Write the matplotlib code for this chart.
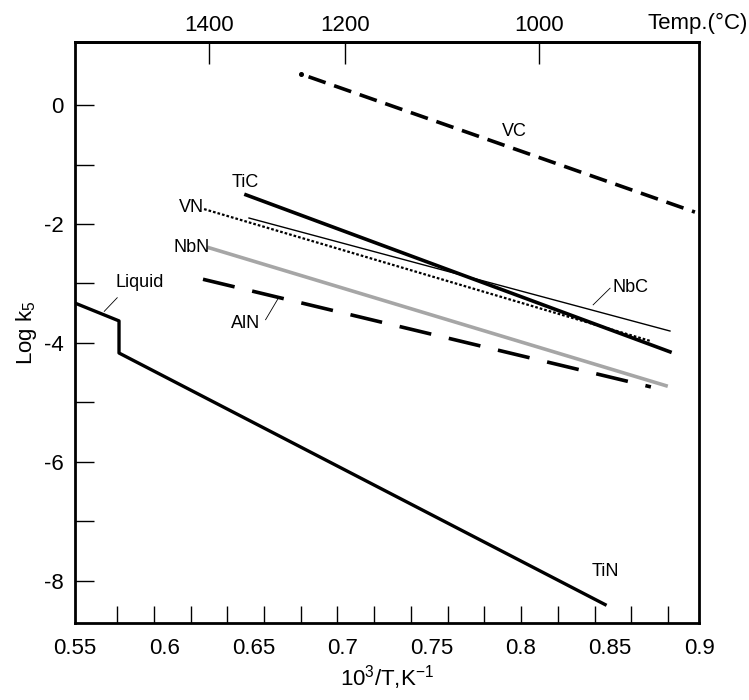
import numpy as np
import matplotlib.pyplot as plt

plt.rcParams['font.family'] = ['Liberation Sans', 'DejaVu Sans']
plt.rcParams['axes.unicode_minus'] = False
plt.rcParams['mathtext.fontset'] = 'custom'
plt.rcParams['mathtext.rm'] = 'Liberation Sans'
plt.rcParams['mathtext.it'] = 'Liberation Sans'

# line end points (x = 10^3/T, y = log k5)
vc_x = [0.6768, 0.8977]
vc_y = [0.52, -1.80]
tic_x = [0.6459, 0.8837]
tic_y = [-1.51, -4.15]
nbc_x = [0.6476, 0.8837]
nbc_y = [-1.90, -3.80]
vn_x = [0.6224, 0.8730]
vn_y = [-1.75, -3.97]
nbn_x = [0.6252, 0.8815]
nbn_y = [-2.40, -4.72]
aln_x = [0.6218, 0.8730]
aln_y = [-2.93, -4.74]
# liquid part + step + TiN
tin_x = [0.550, 0.5747, 0.5747, 0.8473]
tin_y = [-3.33, -3.63, -4.17, -8.40]

x_ticks = [0.55, 0.6, 0.65, 0.7, 0.75, 0.8, 0.85, 0.9]
x_ticklabels = ['0.55', '0.6', '0.65', '0.7', '0.75', '0.8', '0.85', '0.9']
y_ticks = [0, -2, -4, -6, -8]
temp_pos = [0.625, 0.7015, 0.81]
temp_labels = ['1400', '1200', '1000']

fig = plt.figure(figsize=(7.49, 7.0), dpi=100)
ax = fig.add_axes([0.1001, 0.11, 0.8332, 0.83])

# VC: a dot then long dashes
ax.plot(vc_x, vc_y, color='black', lw=2.6, linestyle=(5.3, (5, 2.5)))
ax.plot(vc_x[:1], vc_y[:1], 'o', color='black', ms=2.6)
ax.plot(tic_x, tic_y, color='black', lw=2.6)
ax.plot(nbc_x, nbc_y, color='black', lw=1.0)
ax.plot(vn_x, vn_y, color='black', lw=1.6, dashes=(1.2, 0.9))
ax.plot(nbn_x, nbn_y, color='#a6a6a6', lw=2.6)
ax.plot(aln_x, aln_y, color='black', lw=2.6, dashes=(9, 5))
ax.plot(tin_x, tin_y, color='black', lw=2.4)

fs = 13
ax.text(0.6456, -1.30, 'TiC', fontsize=fs, ha='center', va='center')
ax.text(0.6153, -1.73, 'VN', fontsize=fs, ha='center', va='center')
ax.text(0.6153, -2.39, 'NbN', fontsize=fs, ha='center', va='center')
ax.text(0.5864, -2.98, 'Liquid', fontsize=fs, ha='center', va='center')
ax.text(0.6456, -3.68, 'AlN', fontsize=fs, ha='center', va='center')
ax.text(0.7967, -0.45, 'VC', fontsize=fs, ha='center', va='center')
ax.text(0.8613, -3.06, 'NbC', fontsize=fs, ha='center', va='center')
ax.text(0.8472, -7.85, 'TiN', fontsize=fs, ha='center', va='center')

# leader lines
ax.plot([0.5737, 0.5664], [-3.24, -3.47], color='black', lw=0.6)
ax.plot([0.6569, 0.6642], [-3.61, -3.24], color='black', lw=0.6)
ax.plot([0.8501, 0.8406], [-3.08, -3.36], color='black', lw=0.6)

ax.set_xlim(0.55, 0.9)
ax.set_ylim(-8.71, 1.06)

ax.set_xticks(x_ticks, x_ticklabels)
ax.tick_params(axis='x', length=0, labelsize=16, pad=11)
ax.set_xticks(np.linspace(0.5736, 0.8826, 16), minor=True)
ax.tick_params(axis='x', which='minor', direction='in', length=12, width=1.0)

ax.set_yticks(y_ticks)
ax.set_yticks(np.arange(-8, 1, 1), minor=True)
ax.tick_params(axis='y', which='both', direction='in', length=14, width=1.0, labelsize=16, pad=8)

for s in ax.spines.values():
    s.set_linewidth(2.0)

top = ax.secondary_xaxis('top')
top.set_xticks(temp_pos, temp_labels)
top.tick_params(direction='in', length=16, width=1.0, labelsize=16, pad=4)
top.spines['top'].set_linewidth(2.0)
fig.text(0.931, 0.967, 'Temp.(°C)', fontsize=16, ha='center', va='center')

ax.set_xlabel(r'10$^3$/T,K$^{-1}$', fontsize=16, labelpad=3)
ax.set_ylabel(r'Log k$_5$', fontsize=16, labelpad=4)

fig.savefig('out.png', dpi=100)
